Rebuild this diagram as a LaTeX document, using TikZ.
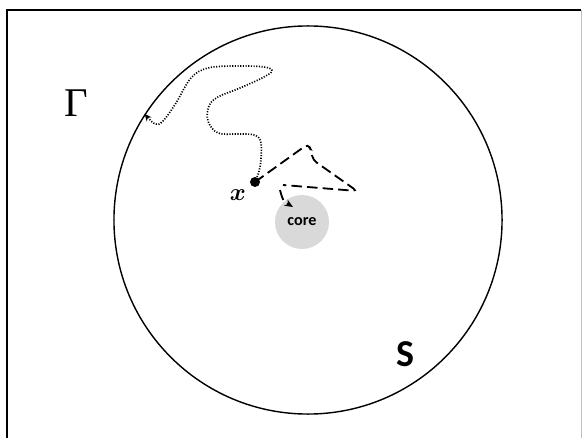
\documentclass[tikz,border=0pt]{standalone}
\usepackage{amsmath,amssymb}
\usepackage{fontspec}
\usepackage{tikz}
\usetikzlibrary{arrows.meta}
\newfontfamily\corefont{Carlito}
\newfontfamily\gammafont{Liberation Serif}
\tikzset{
	walk/.style={line width=1.2pt, dash pattern=on 0.8pt off 1.1pt},
	jump/.style={line width=1.3pt, dash pattern=on 7.5pt off 3.6pt}
}

\begin{document}
\begin{tikzpicture}[x=0.025cm, y=-0.025cm, >=Stealth]
		\useasboundingbox (0,0) rectangle (582,438);

		% Frame
		\draw[line width=1.2pt] (7,438) -- (7,10) -- (581,10);
		\draw[line width=0.6pt, gray!50] (581,10) -- (581,438);

		% Domain and core
		\node[draw, circle, line width=1pt, minimum size=9.7cm, inner sep=0pt] (domain) at (308,220) {};
		\node[circle, fill=black!15, minimum size=1.35cm, inner sep=0pt,
			font=\corefont\bfseries\fontsize{11.5}{13}\selectfont] (core) at (302,222) {core};
		\coordinate (exit) at (domain.147);
		\coordinate (hit) at (293,207);

		% Labels
		\node (gamma) at (76,103) {\gammafont\fontsize{29}{30}\selectfont Γ};
		\node (S) at (405,354) {\corefont\bfseries\fontsize{27}{30}\selectfont S};
		\node (xlabel) at (238,195) {\fontsize{19}{20}\selectfont$\boldsymbol{x}$};

		% Walk to the boundary (dotted)
		\draw[walk, -{Stealth[length=5pt, width=4.5pt]}] plot[smooth, tension=0.6] coordinates {(255,182) (260,167) (261,143) (254,135) (238,134) (218,133) (208,121) (209,106) (218,97) (240,88) (262,78) (272,71) (264,67) (237,66) (208,68) (191,78) (176,103) (163,121) (155,124) (exit)};

		% Walk into the core (dashed)
		\draw[jump, rounded corners=3pt, -{Stealth[length=6pt, width=5pt]}] (255,182) -- (308,144) -- (311,150) -- (313,160) -- (357,191) -- (283,185)
			(280,190) .. controls (283,201) .. (hit);

		% Start point
		\node[circle, fill=black, minimum size=0.25cm, inner sep=0pt] (x) at (255,182) {};
	\end{tikzpicture}
\end{document}
